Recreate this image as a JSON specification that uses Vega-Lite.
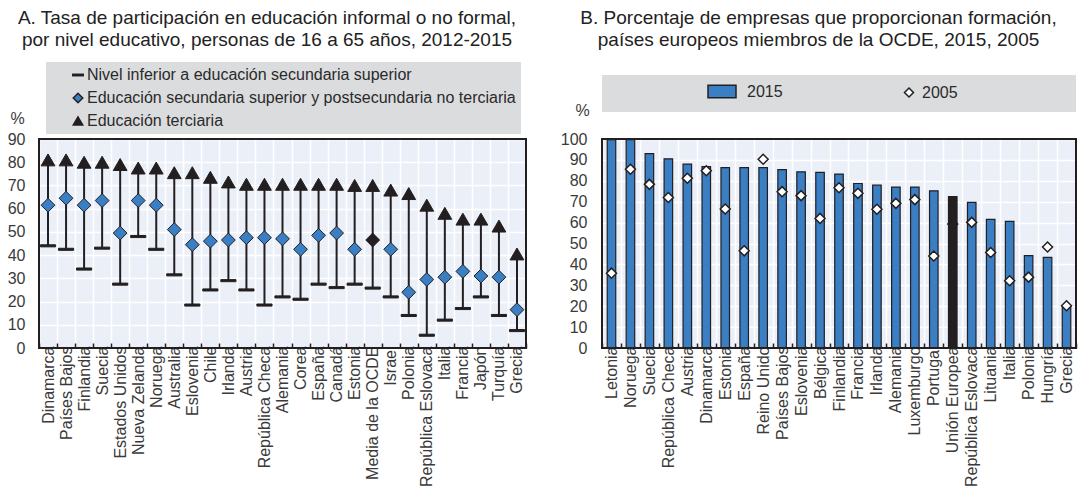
{
  "$schema": "https://vega.github.io/schema/vega-lite/v6.json",
  "padding": {"left": 6, "top": 9, "right": 0, "bottom": 0},
  "background": "white",
  "config": {
    "font": "Liberation Sans",
    "view": {"stroke": null},
    "style": {"cell": {"strokeForeground": true}},
    "axis": {"labelFont": "Liberation Sans", "labelColor": "#3a3a3a", "titleFont": "Liberation Sans", "titleColor": "#3a3a3a", "titleFontWeight": "normal", "titleFontSize": 16, "labelFontSize": 16},
    "legend": {"labelFont": "Liberation Sans", "labelColor": "#2a2a2a", "labelFontSize": 16, "labelLimit": 600},
    "title": {"font": "Liberation Sans", "fontSize": 19, "fontWeight": "normal", "color": "#222222", "anchor": "middle", "lineHeight": 22}
  },
  "datasets": {
    "izq": [
      {"pais": "Dinamarca", "bajo": 44, "medio": 61.5, "alto": 81},
      {"pais": "Países Bajos", "bajo": 42.5, "medio": 64.5, "alto": 81},
      {"pais": "Finlandia", "bajo": 34, "medio": 61.5, "alto": 80},
      {"pais": "Suecia", "bajo": 43, "medio": 63.5, "alto": 80},
      {"pais": "Estados Unidos", "bajo": 27.5, "medio": 49.5, "alto": 79},
      {"pais": "Nueva Zelanda", "bajo": 48, "medio": 63.5, "alto": 77.5},
      {"pais": "Noruega", "bajo": 42.5, "medio": 61.5, "alto": 77.5},
      {"pais": "Australia", "bajo": 31.5, "medio": 51, "alto": 75.5},
      {"pais": "Eslovenia", "bajo": 18.5, "medio": 44.5, "alto": 75.5},
      {"pais": "Chile", "bajo": 25, "medio": 46, "alto": 73.5},
      {"pais": "Irlanda", "bajo": 29, "medio": 46.5, "alto": 71.5},
      {"pais": "Austria", "bajo": 25, "medio": 47.5, "alto": 70.5},
      {"pais": "República Checa", "bajo": 18.5, "medio": 47.5, "alto": 70.5},
      {"pais": "Alemania", "bajo": 22, "medio": 47, "alto": 70.5},
      {"pais": "Corea", "bajo": 21, "medio": 42.5, "alto": 70.5},
      {"pais": "España", "bajo": 27.5, "medio": 48.5, "alto": 70.5},
      {"pais": "Canadá", "bajo": 26, "medio": 49.5, "alto": 70.5},
      {"pais": "Estonia", "bajo": 27.5, "medio": 42.5, "alto": 70},
      {"pais": "Media de la OCDE", "bajo": 25.8, "medio": 46.5, "alto": 70},
      {"pais": "Israel", "bajo": 22, "medio": 42.5, "alto": 68},
      {"pais": "Polonia", "bajo": 14, "medio": 24, "alto": 66.5},
      {"pais": "República Eslovaca", "bajo": 5.5, "medio": 29.5, "alto": 61.5},
      {"pais": "Italia", "bajo": 12, "medio": 30.5, "alto": 58},
      {"pais": "Francia", "bajo": 17, "medio": 33, "alto": 55.5},
      {"pais": "Japón", "bajo": 22, "medio": 31, "alto": 55.5},
      {"pais": "Turquía", "bajo": 14, "medio": 30.5, "alto": 52.5},
      {"pais": "Grecia", "bajo": 7.5, "medio": 16.5, "alto": 40.5}
    ],
    "der": [
      {"pais": "Letonia", "anio": "2015", "valor": 99.7},
      {"pais": "Noruega", "anio": "2015", "valor": 99.7},
      {"pais": "Suecia", "anio": "2015", "valor": 93},
      {"pais": "República Checa", "anio": "2015", "valor": 90.5},
      {"pais": "Austria", "anio": "2015", "valor": 88},
      {"pais": "Dinamarca", "anio": "2015", "valor": 86.8},
      {"pais": "Estonia", "anio": "2015", "valor": 86.3},
      {"pais": "España", "anio": "2015", "valor": 86.3},
      {"pais": "Reino Unido", "anio": "2015", "valor": 86.3},
      {"pais": "Países Bajos", "anio": "2015", "valor": 85.3},
      {"pais": "Eslovenia", "anio": "2015", "valor": 84.3},
      {"pais": "Bélgica", "anio": "2015", "valor": 84},
      {"pais": "Finlandia", "anio": "2015", "valor": 83.2},
      {"pais": "Francia", "anio": "2015", "valor": 78.7},
      {"pais": "Irlanda", "anio": "2015", "valor": 77.9},
      {"pais": "Alemania", "anio": "2015", "valor": 77},
      {"pais": "Luxemburgo", "anio": "2015", "valor": 77},
      {"pais": "Portugal", "anio": "2015", "valor": 75.2},
      {"pais": "Unión Europea", "anio": "2015", "valor": 72.5},
      {"pais": "República Eslovaca", "anio": "2015", "valor": 69.7},
      {"pais": "Lituania", "anio": "2015", "valor": 61.5},
      {"pais": "Italia", "anio": "2015", "valor": 60.6},
      {"pais": "Polonia", "anio": "2015", "valor": 44.2},
      {"pais": "Hungría", "anio": "2015", "valor": 43.4},
      {"pais": "Grecia", "anio": "2015", "valor": 20.3},
      {"pais": "Letonia", "anio": "2005", "valor": 35.8},
      {"pais": "Noruega", "anio": "2005", "valor": 85.5},
      {"pais": "Suecia", "anio": "2005", "valor": 78.3},
      {"pais": "República Checa", "anio": "2005", "valor": 72},
      {"pais": "Austria", "anio": "2005", "valor": 81.2},
      {"pais": "Dinamarca", "anio": "2005", "valor": 84.8},
      {"pais": "Estonia", "anio": "2005", "valor": 66.5},
      {"pais": "España", "anio": "2005", "valor": 46.5},
      {"pais": "Reino Unido", "anio": "2005", "valor": 90.3},
      {"pais": "Países Bajos", "anio": "2005", "valor": 74.8},
      {"pais": "Eslovenia", "anio": "2005", "valor": 72.9},
      {"pais": "Bélgica", "anio": "2005", "valor": 62},
      {"pais": "Finlandia", "anio": "2005", "valor": 76.7},
      {"pais": "Francia", "anio": "2005", "valor": 74},
      {"pais": "Irlanda", "anio": "2005", "valor": 66.4},
      {"pais": "Alemania", "anio": "2005", "valor": 69.2},
      {"pais": "Luxemburgo", "anio": "2005", "valor": 71},
      {"pais": "Portugal", "anio": "2005", "valor": 44},
      {"pais": "Unión Europea", "anio": "2005", "valor": 59.3},
      {"pais": "República Eslovaca", "anio": "2005", "valor": 60.1},
      {"pais": "Lituania", "anio": "2005", "valor": 45.7},
      {"pais": "Italia", "anio": "2005", "valor": 32.2},
      {"pais": "Polonia", "anio": "2005", "valor": 33.9},
      {"pais": "Hungría", "anio": "2005", "valor": 48.3},
      {"pais": "Grecia", "anio": "2005", "valor": 20.2}
    ]
  },
  "resolve": {
    "scale": {"fill": "independent", "shape": "independent"},
    "legend": {"fill": "independent", "shape": "independent"}
  },
  "hconcat": [
    {
      "title": {"text": ["A. Tasa de participación en educación informal o no formal,", "por nivel educativo, personas de 16 a 65 años, 2012-2015"], "offset": 12, "anchor": "middle"},
      "vconcat": [
        {"width": 487, "height": 57, "data": {"values": []}, "mark": {"type": "point", "opacity": 0}},
        {
          "width": 487,
          "height": 209,
          "data": {"name": "izq"},
          "view": {"fill": "#ebf0f8", "stroke": "#231f20", "strokeWidth": 2},
          "encoding": {
            "x": {
              "field": "pais", "type": "nominal",
              "scale": {"domain": ["Dinamarca", "Países Bajos", "Finlandia", "Suecia", "Estados Unidos", "Nueva Zelanda", "Noruega", "Australia", "Eslovenia", "Chile", "Irlanda", "Austria", "República Checa", "Alemania", "Corea", "España", "Canadá", "Estonia", "Media de la OCDE", "Israel", "Polonia", "República Eslovaca", "Italia", "Francia", "Japón", "Turquía", "Grecia"], "paddingInner": 0, "paddingOuter": 0},
              "axis": {"title": null, "labelAngle": -90, "labelPadding": 3, "tickBand": "extent", "tickSize": -5, "tickColor": "#231f20", "tickWidth": 1.5, "domain": false, "grid": true, "gridColor": "#ffffff", "gridWidth": 1.5}
            }
          },
          "layer": [
            {
              "mark": {"type": "rule", "color": "#231f20", "strokeWidth": 2},
              "encoding": {
                "y": {"field": "bajo", "type": "quantitative", "scale": {"domain": [0, 90], "nice": false},
                  "axis": {"values": [0, 10, 20, 30, 40, 50, 60, 70, 80, 90], "title": "%", "titleAngle": 0, "titleX": -22, "titleY": -21, "titleAlign": "center", "titleBaseline": "middle", "labelPadding": 14, "ticks": false, "domain": false, "grid": true, "gridColor": "#ffffff", "gridWidth": 1.5}},
                "y2": {"field": "alto"}
              }
            },
            {
              "transform": [{"fold": ["bajo", "medio", "alto"], "as": ["serie", "valor"]}],
              "mark": {"type": "point", "filled": true, "size": 190, "stroke": "#231f20", "strokeWidth": 1, "opacity": 1},
              "encoding": {
                "y": {"field": "valor", "type": "quantitative",
                  "axis": {"values": [0, 10, 20, 30, 40, 50, 60, 70, 80, 90], "title": "%", "titleAngle": 0, "titleX": -22, "titleY": -21, "titleAlign": "center", "titleBaseline": "middle", "labelPadding": 14, "ticks": false, "domain": false, "grid": true, "gridColor": "#ffffff", "gridWidth": 1.5}},
                "shape": {"field": "serie", "type": "nominal",
                  "scale": {"domain": ["bajo", "medio", "alto"], "range": ["M-1.1,-0.15H1.1V0.15H-1.1Z", "diamond", "triangle-up"]},
                  "legend": {"title": null, "orient": "none", "legendX": 7, "legendY": -13, "direction": "vertical", "fillColor": "#dbdcde", "padding": 5, "symbolOffset": 19, "labelOffset": 1, "rowPadding": 7, "symbolSize": 90,
                    "encode": {"symbols": {"update": {"stroke": {"value": "#231f20"}, "strokeWidth": {"value": 1}}}},
                    "labelExpr": "datum.value === 'bajo' ? 'Nivel inferior a educación secundaria superior' : datum.value === 'medio' ? 'Educación secundaria superior y postsecundaria no terciaria' : 'Educación terciaria'"}},
                "fill": {"condition": {"test": "datum.pais === 'Media de la OCDE' && datum.serie === 'medio'", "value": "#231f20"},
                  "field": "serie", "type": "nominal",
                  "scale": {"domain": ["bajo", "medio", "alto"], "range": ["#231f20", "#3a7ec3", "#231f20"]},
                  "legend": {"title": null, "orient": "none", "legendX": 7, "legendY": -13, "direction": "vertical", "fillColor": "#dbdcde", "padding": 5, "symbolOffset": 19, "labelOffset": 1, "rowPadding": 7, "symbolSize": 90,
                    "encode": {"symbols": {"update": {"stroke": {"value": "#231f20"}, "strokeWidth": {"value": 1}}}},
                    "labelExpr": "datum.value === 'bajo' ? 'Nivel inferior a educación secundaria superior' : datum.value === 'medio' ? 'Educación secundaria superior y postsecundaria no terciaria' : 'Educación terciaria'"}}
              }
            }
          ]
        }
      ],
      "spacing": 7,
      "bounds": "flush"
    },
    {
      "title": {"text": ["B. Porcentaje de empresas que proporcionan formación,", "países europeos miembros de la OCDE, 2015, 2005"], "offset": 25, "anchor": "middle"},
      "vconcat": [
        {"width": 474, "height": 37, "data": {"values": []}, "mark": {"type": "point", "opacity": 0}, "view": {"fill": "#dbdcde", "stroke": null}},
        {
          "width": 474,
          "height": 209,
          "data": {"name": "der"},
          "view": {"fill": "#ebf0f8", "stroke": "#231f20", "strokeWidth": 2},
          "encoding": {
            "x": {
              "field": "pais", "type": "nominal",
              "scale": {"domain": ["Letonia", "Noruega", "Suecia", "República Checa", "Austria", "Dinamarca", "Estonia", "España", "Reino Unido", "Países Bajos", "Eslovenia", "Bélgica", "Finlandia", "Francia", "Irlanda", "Alemania", "Luxemburgo", "Portugal", "Unión Europea", "República Eslovaca", "Lituania", "Italia", "Polonia", "Hungría", "Grecia"], "paddingInner": 0, "paddingOuter": 0},
              "axis": {"title": null, "labelAngle": -90, "labelPadding": 3, "tickBand": "extent", "tickSize": -5, "tickColor": "#231f20", "tickWidth": 1.5, "domain": false, "grid": true, "gridColor": "#ffffff", "gridWidth": 1.5}
            },
            "y": {"field": "valor", "type": "quantitative", "scale": {"domain": [0, 100], "nice": false},
              "axis": {"values": [0, 10, 20, 30, 40, 50, 60, 70, 80, 90, 100], "title": "%", "titleAngle": 0, "titleX": -20, "titleY": -29, "titleAlign": "center", "titleBaseline": "middle", "labelPadding": 15, "ticks": false, "domain": false, "grid": true, "gridColor": "#ffffff", "gridWidth": 1.5}}
          },
          "layer": [
            {
              "transform": [{"filter": "datum.anio === '2015'"}],
              "mark": {"type": "bar", "width": {"band": 0.45}, "stroke": "#231f20", "strokeWidth": 1.2},
              "encoding": {
                "fill": {"condition": {"test": "datum.pais === 'Unión Europea'", "value": "#231f20"},
                  "field": "anio", "type": "nominal",
                  "scale": {"domain": ["2015"], "range": ["#3a7ec3"]},
                  "legend": {"title": null, "orient": "none", "legendX": 105, "legendY": 1.5, "padding": 0, "symbolType": "M-1,-0.45H1V0.45H-1Z", "symbolSize": 784, "labelOffset": 10,
                    "encode": {"symbols": {"update": {"stroke": {"value": "#231f20"}, "strokeWidth": {"value": 1.2}}}}}}
              }
            },
            {
              "transform": [{"filter": "datum.anio === '2005'"}],
              "mark": {"type": "point", "filled": true, "size": 100, "stroke": "#231f20", "strokeWidth": 1.5, "opacity": 1},
              "encoding": {
                "fill": {"condition": {"test": "datum.pais === 'Unión Europea'", "value": "#231f20"}, "value": "#ffffff"},
                "shape": {"field": "anio", "type": "nominal",
                  "scale": {"domain": ["2005"], "range": ["diamond"]},
                  "legend": {"title": null, "orient": "none", "legendX": 299, "legendY": 9.5, "padding": 0, "symbolSize": 81, "labelOffset": 5,
                    "encode": {"symbols": {"update": {"fill": {"value": "#ffffff"}, "stroke": {"value": "#231f20"}, "strokeWidth": {"value": 1.5}, "opacity": {"value": 1}}}}}}
              }
            }
          ]
        }
      ],
      "spacing": 27,
      "bounds": "flush"
    }
  ],
  "spacing": 31
}
